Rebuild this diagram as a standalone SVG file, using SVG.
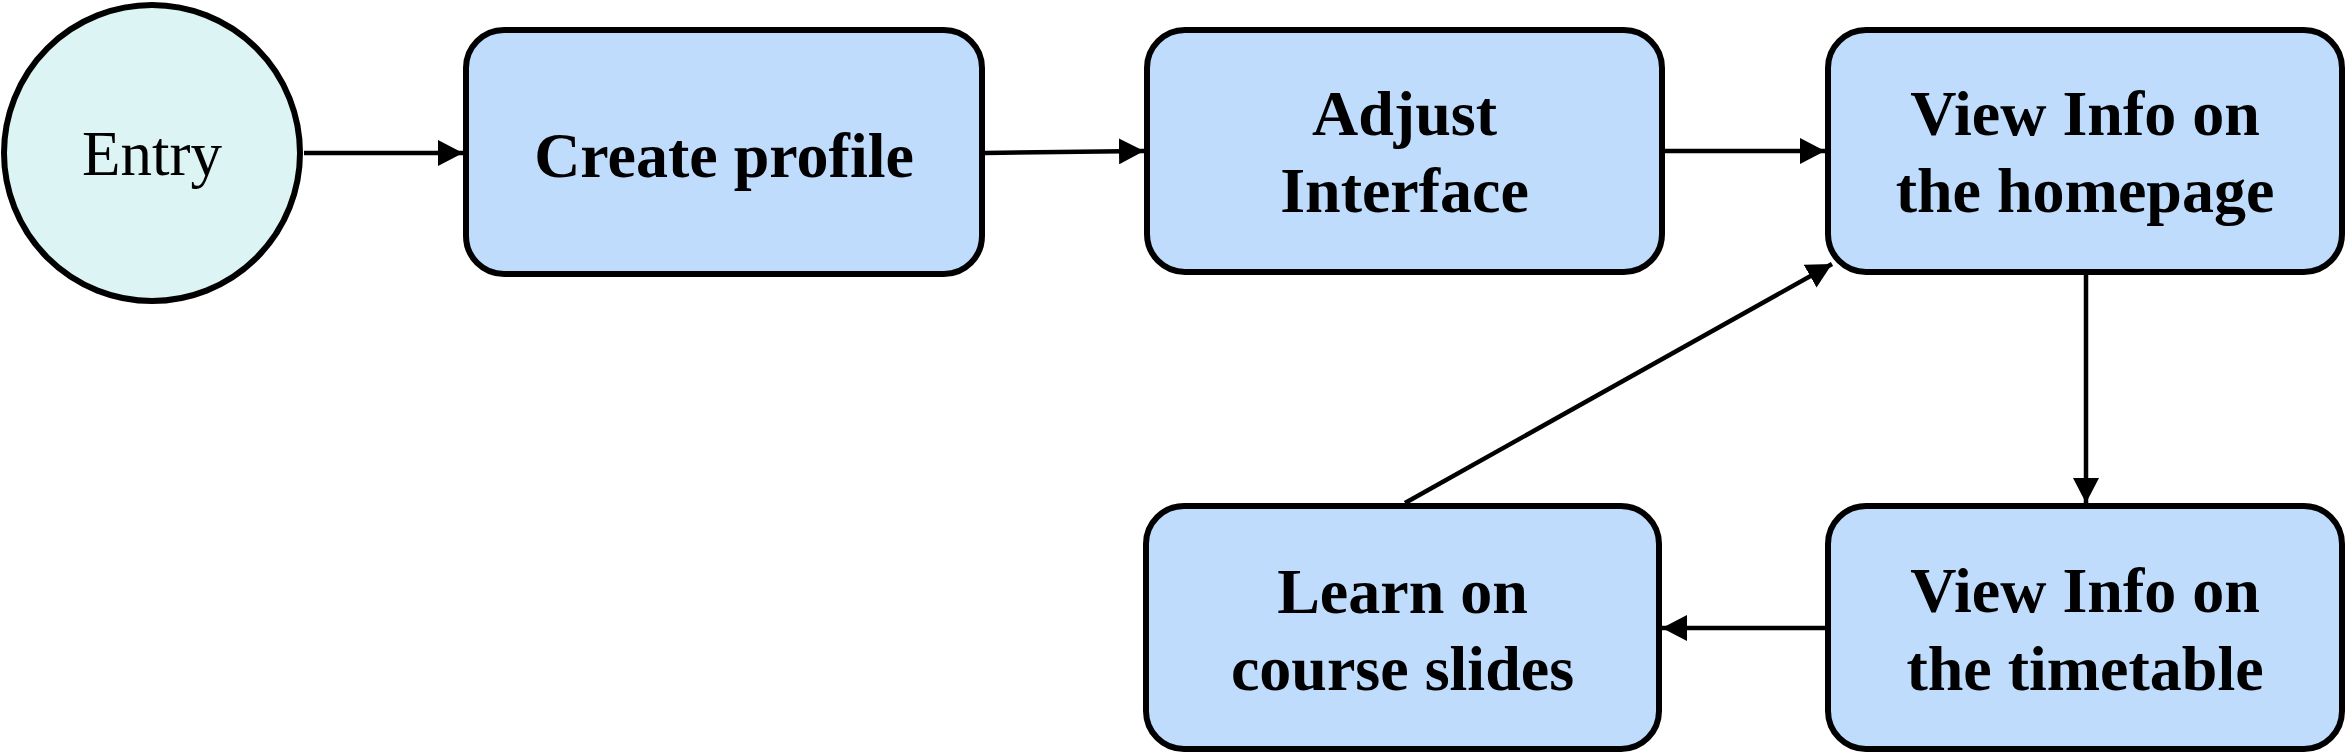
<svg xmlns="http://www.w3.org/2000/svg" width="2348" height="755" viewBox="0 0 2348 755">
<style>
.box{fill:#bfdcfc;stroke:#000;stroke-width:6}
.start{fill:#dcf4f4;stroke:#000;stroke-width:6}
.lbl{font-family:"Liberation Serif","Times New Roman",serif;font-weight:bold;font-size:64px;text-anchor:middle;fill:#000}
.lbl2{font-family:"Liberation Serif","Times New Roman",serif;font-size:63px;text-anchor:middle;fill:#000}
.edge{stroke:#000;stroke-width:4.5;fill:none;marker-end:url(#arr)}
</style>
<defs>
<marker id="arr" markerUnits="userSpaceOnUse" markerWidth="26" markerHeight="26" refX="25" refY="13" orient="auto">
<path d="M0,0 L25,13 L0,26 z" fill="#000"/>
</marker>
</defs>
<rect width="2348" height="755" fill="#fff"/>
<g id="connectors">
<line class="edge" x1="304" y1="153" x2="463" y2="153"/>
<line class="edge" x1="985" y1="153" x2="1144" y2="151"/>
<line class="edge" x1="1665" y1="151" x2="1825" y2="151"/>
<line class="edge" x1="2086" y1="275" x2="2086" y2="503"/>
<line class="edge" x1="1825" y1="628" x2="1662" y2="628"/>
<line class="edge" x1="1405" y1="503" x2="1832" y2="264"/>
</g>
<g id="entry">
<circle class="start" cx="152" cy="153" r="148"/>
<text class="lbl2" x="152" y="175">Entry</text>
</g>
<g id="create-profile">
<rect class="box" x="466" y="30" width="516" height="244" rx="38"/>
<text class="lbl" x="724" y="177">Create profile</text>
</g>
<g id="adjust-interface">
<rect class="box" x="1147" y="30" width="515" height="242" rx="38"/>
<text class="lbl" x="1404.5" y="135">Adjust</text>
<text class="lbl" x="1404.5" y="212">Interface</text>
</g>
<g id="view-homepage">
<rect class="box" x="1828" y="30" width="514" height="242" rx="38"/>
<text class="lbl" x="2085" y="135">View Info on</text>
<text class="lbl" x="2085" y="212">the homepage</text>
</g>
<g id="learn-slides">
<rect class="box" x="1146" y="506" width="513" height="243" rx="38"/>
<text class="lbl" x="1402.5" y="613">Learn on</text>
<text class="lbl" x="1402.5" y="690">course slides</text>
</g>
<g id="view-timetable">
<rect class="box" x="1828" y="506" width="514" height="243" rx="38"/>
<text class="lbl" x="2085" y="612">View Info on</text>
<text class="lbl" x="2085" y="690">the timetable</text>
</g>
</svg>
